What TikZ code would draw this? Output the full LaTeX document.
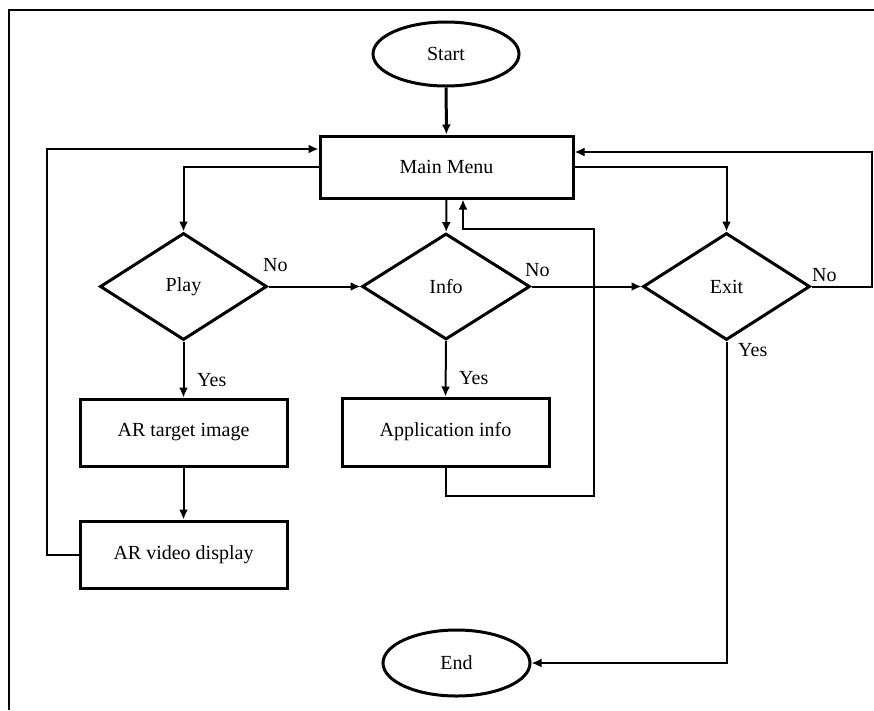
\documentclass[tikz,border=0pt]{standalone}
\usepackage{fontspec}
\setmainfont{Liberation Serif}
\usetikzlibrary{shapes.geometric,arrows.meta}
\begin{document}
\begin{tikzpicture}[x=1pt,y=-1pt,
  every node/.style={font=\fontsize{20}{24}\selectfont},
  proc/.style={draw,line width=3pt,rectangle,inner sep=0pt,minimum width=207pt,minimum height=67pt},
  term/.style={draw,line width=3pt,ellipse,inner sep=0pt,minimum width=146pt,minimum height=64pt},
  decis/.style={draw,line width=3pt,diamond,inner sep=0pt,minimum width=167pt,minimum height=107pt},
  conn/.style={line width=2pt,-{Latex[length=10pt,width=9pt]}},
  lbl/.style={inner sep=0pt,anchor=base west}
]
\useasboundingbox (0,0) rectangle (874,710);
\draw[line width=1.6pt] (9,710) -- (9,10) -- (874,10);

\node[term] (start) at (446,54) {Start};
\node[proc,minimum width=253pt,minimum height=62pt] (menu) at (446.5,167) {Main Menu};
\node[decis] (play) at (183.5,286.5) {Play};
\node[decis,minimum width=168pt,minimum height=106pt] (info) at (446,286.5) {Info};
\node[decis] (exit) at (726.5,286.5) {Exit};
\node[proc] (artarget) at (183.5,432.5) {AR target image};
\node[proc] (arvideo) at (183.5,554.5) {AR video display};
\node[proc,minimum height=68pt] (appinfo) at (445.5,432) {Application info};
\node[term,minimum width=147pt,minimum height=66pt] (end) at (456.5,663) {End};

\coordinate (exitR) at (872,286.5);
\coordinate (exitRT) at (872,152);
\coordinate (arvL) at (47,554.5);
\coordinate (arvLT) at (47,149);
\coordinate (appB) at (445.5,496);
\coordinate (appBR) at (594,496);
\coordinate (appTR) at (594,229);
\coordinate (appTL) at (463,229);
\coordinate (exitB) at (726.5,663);

\draw[conn,line width=3pt] (start) -- (menu);
\draw[conn] (menu.west) -| (play.north);
\draw[conn] (menu) -- (info);
\draw[conn] (menu.east) -| (exit.north);
\draw[conn] (play.east) -- (info.west);
\draw[conn] (info.east) -- (exit.west);
\draw[conn] (exit.east) -- (exitR) -- (exitRT) -- ([yshift=15pt]menu.east);
\draw[conn] (play.south) -- (artarget.north);
\draw[conn] (artarget) -- (arvideo);
\draw[conn] (arvideo.west) -- (arvL) -- (arvLT) -- ([yshift=18pt]menu.west);
\draw[conn] (info.south) -- (appinfo.north);
\draw[conn] (appinfo.south) -- (appB) -- (appBR) -- (appTR) -- (appTL) -- ([xshift=16.5pt]menu.south);
\draw[conn] (exit.south) -- (exitB) -- (end.east);

\node[lbl] (noplay) at (263,271) {No};
\node[lbl] (noinfo) at (525,276) {No};
\node[lbl] (noexit) at (812,281) {No};
\node[lbl] (yesplay) at (197,386) {Yes};
\node[lbl] (yesinfo) at (459,384) {Yes};
\node[lbl] (yesexit) at (738,356) {Yes};
\end{tikzpicture}
\end{document}
